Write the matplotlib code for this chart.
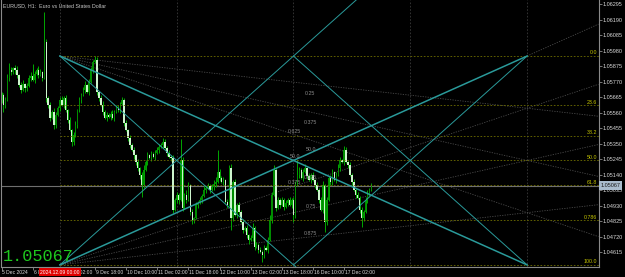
import numpy as np
import matplotlib.pyplot as plt
import matplotlib.transforms as mtransforms

# EURUSD H1 candles, bar 0 = 9 Dec 2024 00:00 (bars -30 .. 160)
first_open = 1.05646
closes = [
    1.05680, 1.05612, 1.05646, 1.05795, 1.05849, 1.05835, 1.05862, 1.05849, 1.05815, 1.05747,
    1.05714, 1.05754, 1.05727, 1.05741, 1.05795, 1.05808, 1.05781, 1.05822, 1.05849, 1.05815,
    1.05835, 1.05795, 1.06038, 1.05660, 1.05612, 1.05524, 1.05565, 1.05477, 1.05545, 1.05592,
    1.05646, 1.05612, 1.05660, 1.05578, 1.05511, 1.05443, 1.05362, 1.05409, 1.05477, 1.05578,
    1.05646, 1.05680, 1.05714, 1.05747, 1.05700, 1.05768, 1.05849, 1.05903, 1.05916, 1.05700,
    1.05660, 1.05612, 1.05565, 1.05524, 1.05545, 1.05531, 1.05551, 1.05524, 1.05565, 1.05592,
    1.05578, 1.05619, 1.05646, 1.05490, 1.05443, 1.05389, 1.05342, 1.05308, 1.05274, 1.05227,
    1.05186, 1.05139, 1.05071, 1.05173, 1.05227, 1.05274, 1.05254, 1.05281, 1.05261, 1.05288,
    1.05308, 1.05328, 1.05342, 1.05362, 1.05322, 1.05288, 1.05261, 1.05254, 1.04902, 1.04970,
    1.05004, 1.04970, 1.05240, 1.04916, 1.05004, 1.04970, 1.05071, 1.04889, 1.04835, 1.04848,
    1.04936, 1.04950, 1.04970, 1.04997, 1.05038, 1.05051, 1.05065, 1.05038, 1.05058, 1.05078,
    1.05092, 1.05159, 1.05119, 1.05092, 1.05105, 1.04957, 1.04936, 1.05186, 1.04848, 1.05092,
    1.04869, 1.04936, 1.04889, 1.04821, 1.04767, 1.04781, 1.04733, 1.04700, 1.04713, 1.04781,
    1.04652, 1.04666, 1.04632, 1.04619, 1.04598, 1.04646, 1.04632, 1.04700, 1.04835, 1.05004,
    1.05173, 1.04916, 1.04970, 1.04936, 1.04970, 1.04923, 1.04950, 1.04970, 1.04936, 1.04970,
    1.04869, 1.05071, 1.05139, 1.05173, 1.05119, 1.05159, 1.05186, 1.05132, 1.05105, 1.05139,
    1.05105, 1.05071, 1.05038, 1.04970, 1.04902, 1.05071, 1.04821, 1.04970, 1.05119, 1.05092,
    1.05159, 1.05105, 1.05139, 1.05186, 1.05240, 1.05227, 1.05308, 1.05227, 1.05207, 1.05139,
    1.05092, 1.05038, 1.05004, 1.04984, 1.04902, 1.04848, 1.04889, 1.04970, 1.05004, 1.05038,
    1.05067,
]
# wick lengths in pips above / below the body
wick_up = [
    2, 1, 2, 3, 5, 2, 1, 2, 3, 1,
    2, 3, 1, 2, 2, 3, 8, 2, 1, 3,
    2, 1, 20, 2, 1, 2, 1, 3, 2, 1,
    2, 3, 1, 2, 1, 2, 1, 2, 3, 1,
    2, 1, 2, 3, 1, 2, 2, 1, 3, 2,
    1, 2, 3, 1, 2, 1, 2, 3, 1, 2,
    2, 1, 2, 1, 2, 1, 2, 1, 2, 1,
    2, 1, 2, 3, 1, 2, 1, 2, 1, 2,
    2, 2, 1, 3, 2, 1, 2, 1, 2, 1,
    2, 1, 14, 2, 1, 3, 2, 1, 2, 1,
    2, 1, 2, 1, 3, 1, 2, 1, 2, 3,
    3, 15, 2, 1, 2, 1, 2, 2, 3, 1,
    2, 1, 2, 1, 2, 1, 2, 1, 2, 3,
    1, 2, 1, 2, 1, 2, 1, 2, 3, 2,
    3, 1, 2, 1, 2, 1, 2, 1, 2, 1,
    2, 3, 10, 2, 1, 2, 3, 1, 2, 1,
    2, 1, 2, 1, 2, 3, 1, 2, 1, 2,
    2, 1, 2, 3, 2, 1, 3, 2, 1, 2,
    1, 2, 1, 2, 1, 2, 1, 2, 3, 1,
    2,
]
wick_dn = [
    2, 5, 2, 1, 2, 2, 1, 3, 2, 1,
    2, 1, 3, 2, 1, 2, 1, 2, 1, 2,
    1, 2, 1, 3, 2, 2, 1, 3, 2, 1,
    2, 1, 2, 1, 2, 1, 3, 2, 1, 2,
    1, 2, 1, 2, 1, 2, 1, 2, 1, 2,
    2, 1, 2, 1, 2, 1, 2, 1, 2, 1,
    1, 2, 1, 2, 1, 2, 2, 1, 3, 2,
    2, 3, 8, 2, 1, 2, 1, 2, 1, 2,
    1, 2, 1, 2, 1, 2, 1, 2, 2, 1,
    2, 3, 1, 2, 1, 2, 1, 2, 3, 2,
    1, 2, 1, 2, 1, 2, 1, 2, 1, 2,
    2, 1, 2, 1, 2, 1, 2, 1, 8, 2,
    1, 2, 2, 1, 2, 1, 2, 3, 1, 2,
    2, 1, 2, 1, 5, 2, 1, 2, 1, 2,
    1, 2, 1, 2, 1, 2, 1, 2, 1, 2,
    5, 2, 1, 2, 1, 2, 1, 2, 1, 2,
    1, 2, 1, 2, 1, 2, 7, 2, 1, 2,
    2, 1, 2, 1, 2, 1, 2, 1, 2, 1,
    2, 1, 2, 1, 2, 6, 2, 1, 2, 1,
    1,
]

time_labels = ['5 Dec 2024', '6 Dec 10:00', '9 Dec 02:00', '9 Dec 18:00', '10 Dec 10:00',
               '11 Dec 02:00', '11 Dec 18:00', '12 Dec 10:00', '13 Dec 02:00',
               '13 Dec 18:00', '16 Dec 10:00', '17 Dec 02:00']
time_label_bars = [-30, -14, 2, 18, 34, 50, 66, 82, 98, 114, 130, 146]

price_ticks = [1.04615, 1.04720, 1.04825, 1.04930, 1.05035, 1.05140, 1.05245, 1.05350,
               1.05455, 1.05560, 1.05665, 1.05770, 1.05875, 1.05980, 1.06085, 1.06190, 1.06295]
last_price = 1.05067

# drawing objects (fibo + grid)
fib_hi = 1.05943
fib_lo = 1.04531
fib_t0 = 0
fib_t1 = 240
fib_levels = [0.0, 0.236, 0.382, 0.5, 0.618, 0.786, 1.0]
fib_names = ['0.0', '23.6', '38.2', '50.0', '61.8', '0.786', '100.0']
fan_fracs = [0.25, 0.5, 0.75]

grid_labels = ['0.25', '0.375', '50.0', '0.625', '0.75', '0.875', '0.625', '50.0', '0.375']
grid_label_bars = [125.6, 125.1, 126.2, 125.1, 126.2, 125.1, 116.9, 117.9, 116.9]
grid_label_prices = [1.05687, 1.05497, 1.05308, 1.05125, 1.04929, 1.04740, 1.05430, 1.05261, 1.05085]

x_lo, x_hi = -29.5, 276.7
y_lo, y_hi = 1.04520, 1.06322

fig = plt.figure(figsize=(6.25, 2.77), dpi=100, facecolor='black')
ax = fig.add_axes([1.5 / 625, 10.5 / 277, 597 / 625, 266.5 / 277])
ax.set_facecolor('black')
ax.set_xlim(x_lo, x_hi)
ax.set_ylim(y_lo, y_hi)

small = dict(family='Liberation Sans', fontsize=3.8)

# candles
bars = np.arange(-30, -30 + len(closes))
c = np.array(closes)
o = np.concatenate([[first_open], c[:-1]])
hi = np.maximum(o, c) + np.array(wick_up) * 1e-4
lo = np.minimum(o, c) - np.array(wick_dn) * 1e-4
ax.vlines(bars, lo, hi, color='#00a800', lw=0.7, zorder=2)
body_col = np.where(c < o, '#cdf5cd', '#008c00')
ax.bar(bars, c - o, bottom=o, width=0.75, color=body_col, lw=0, zorder=2)

# vertical grid of the object
R = fib_hi - fib_lo
for k in range(5):
    ax.axvline(fib_t0 + k * (fib_t1 - fib_t0) / 4, color='#3a3a3a', lw=0.6, ls=(0, (2, 2)), zorder=1)

# fan lines (gray dotted)
def ray(t_a, p_a, t_b, p_b, t_end):
    s = (p_b - p_a) / (t_b - t_a)
    return [t_a, t_end], [p_a, p_a + s * (t_end - t_a)]

for f in fan_fracs:
    pe = fib_hi - f * R
    xs, ys = ray(fib_t0, fib_lo, fib_t1, pe, x_hi)
    ax.plot(xs, ys, color='#4a4a4a', lw=0.6, ls=(0, (1.5, 1.5)), zorder=1)
    xs, ys = ray(fib_t0, fib_hi, fib_t1, pe, x_hi)
    ax.plot(xs, ys, color='#4a4a4a', lw=0.6, ls=(0, (1.5, 1.5)), zorder=1)
xs, ys = ray(fib_t1, fib_hi, fib_t0, fib_lo, x_hi)
ax.plot(xs, ys, color='#4a4a4a', lw=0.6, ls=(0, (1.5, 1.5)), zorder=1)

# bid line
ax.axhline(last_price, color='#6e6e6e', lw=0.8, zorder=1)

# fibo levels
for lev, name in zip(fib_levels, fib_names):
    p = fib_hi - lev * R
    ax.hlines(p, fib_t0, x_hi, colors='#6f6f00', lw=0.6, linestyles=(0, (2, 2)), zorder=3)
    ax.text(275.9, p + 0.00004, name, color='#c8c800', ha='right', va='bottom', zorder=6, **small)

# teal lines
tm = (fib_t0 + fib_t1) / 2
teal = '#2a9a9a'
ax.plot([fib_t0, fib_t1], [fib_hi, fib_lo], color=teal, lw=1.1, zorder=4)
ax.plot([fib_t0, fib_t1], [fib_lo, fib_hi], color=teal, lw=1.1, zorder=4)
xs, ys = ray(fib_t0, fib_lo, tm, fib_hi, tm + 40)
ax.plot(xs, ys, color=teal, lw=0.7, zorder=4)
xs, ys = ray(fib_t0, fib_hi, tm, fib_lo, tm + 20)
ax.plot(xs, ys, color=teal, lw=0.7, zorder=4)
ax.plot([tm, fib_t1], [fib_hi, fib_lo], color=teal, lw=0.7, zorder=4)
ax.plot([tm, fib_t1], [fib_lo, fib_hi], color=teal, lw=0.7, zorder=4)

for lab, b, p in zip(grid_labels, grid_label_bars, grid_label_prices):
    ax.text(b, p, lab, color='#8a8a8a', ha='left', va='center', zorder=6, **small)

# axes frame
for side in ['left', 'right', 'bottom']:
    ax.spines[side].set_color('#8a8a8a')
    ax.spines[side].set_linewidth(0.8)
ax.spines['top'].set_visible(False)

ax.yaxis.tick_right()
ax.set_yticks(price_ticks)
ax.set_yticklabels([f'{p:.5f}' for p in price_ticks], family='Liberation Sans')
ax.tick_params(axis='y', length=2, width=0.6, color='#8a8a8a', labelcolor='#d8d8d8',
               labelsize=4, pad=1)
ax.set_xticks(time_label_bars)
ax.tick_params(axis='x', length=2, width=0.6, color='#8a8a8a', labelbottom=False)

tx = mtransforms.blended_transform_factory(ax.transData, ax.transAxes)
for lab, b in zip(time_labels, time_label_bars):
    ax.text(b + 0.5, -0.021, lab, transform=tx, color='#d8d8d8', ha='left', va='center',
            clip_on=False, family='Liberation Sans', fontsize=3.6)
ax.text(fib_t0, -0.021, '2024.12.09 00:00', transform=tx, color='white', ha='center',
        va='center', clip_on=False, zorder=10, family='Liberation Sans', fontsize=3.6,
        bbox=dict(boxstyle='square,pad=0.25', fc='#e00000', ec='none'))

ty = mtransforms.blended_transform_factory(ax.transAxes, ax.transData)
ax.text(1.003, last_price, '1.05067', transform=ty, color='#1a1a1a', ha='left', va='center',
        clip_on=False, zorder=10, family='Liberation Sans', fontsize=4,
        bbox=dict(boxstyle='square,pad=0.3', fc='#a9bccd', ec='none'))

ax.text(0.003, 0.977, 'EURUSD, H1:  Euro vs United States Dollar', transform=ax.transAxes,
        color='#c8c8c8', ha='left', va='center', **small)
ax.text(0.002, 0.036, '1.05067', transform=ax.transAxes, color='#1ec81e', ha='left',
        va='center', family='Liberation Mono', fontsize=12.2, zorder=7)

fig.savefig('out.png', dpi=100, facecolor='black')
